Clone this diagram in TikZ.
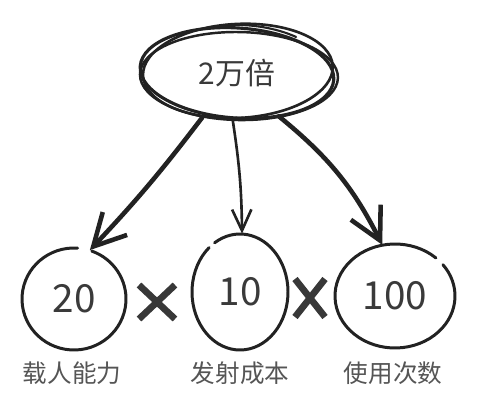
\documentclass[tikz,border=0pt]{standalone}
\usepackage{fontspec}
\setmainfont{Noto Sans CJK SC}
\usetikzlibrary{arrows.meta,shapes.geometric,calc}
\definecolor{ink}{HTML}{222222}
\definecolor{txt}{HTML}{3A3A3A}
\definecolor{labc}{HTML}{555555}
\begin{document}
\begin{tikzpicture}[x=0.02cm,y=0.02cm,
  sketch/.style={draw=ink, line width=1.7pt, line cap=round},
  bubble/.style={ellipse, inner sep=0pt},
  numtxt/.style={font=\fontsize{22}{24}\selectfont, text=txt},
  labtxt/.style={font=\fontsize{14}{16}\selectfont, text=labc},
  arrthick/.style={draw=ink, line width=2.6pt, line cap=round,
    -{Straight Barb[length=18pt,width=19pt]}},
  arrthin/.style={draw=ink, line width=1.5pt, line cap=round,
    -{Straight Barb[length=12pt,width=11pt]}},
  xmark/.style={draw=ink!90, line width=3.8pt}]
\useasboundingbox (0,0) rectangle (500,402);
\fill[white] (0,0) rectangle (500,402);

% top bubble
\node[bubble, minimum width=3.9cm, minimum height=1.9cm,
      font=\fontsize{17}{19}\selectfont, text=txt] (top) at (237,329) {2万倍};
\draw[sketch, line width=1.8pt, rotate around={-4:(top.center)}] (top.center) ellipse[x radius=97, y radius=45];
\draw[sketch, line width=1.5pt, rotate around={3:(top.center)}] ($(top.center)+(1,2)$) ellipse[x radius=95, y radius=47];
\draw[sketch, line width=1.4pt, rotate around={-1:(top.center)}] ($(top.center)+(2,-3)$) ellipse[x radius=99, y radius=44];
\draw[sketch, line width=1.2pt] (top.center) ++(50:92 and 47) arc[start angle=50, end angle=95, x radius=96, y radius=52];

% bottom bubbles
\node[bubble, minimum width=2.08cm, minimum height=2.04cm, numtxt] (c1) at (74,103) {20};
\node[bubble, minimum width=1.92cm, minimum height=2.32cm, numtxt] (c2) at (240,110) {10};
\node[bubble, minimum width=2.4cm, minimum height=2.08cm, numtxt] (c3) at (395,106) {100};

\draw[sketch] (c1.center) ++(86:52 and 51) arc[start angle=86, end angle=430, x radius=52, y radius=51];
\draw[sketch] (c2.center) ++(130:48 and 58) arc[start angle=130, end angle=482, x radius=48, y radius=58];
\draw[sketch] (c3.center) ++(47:60 and 52) arc[start angle=47, end angle=397, x radius=60, y radius=52];

% multiplication marks
\node[inner sep=0pt, minimum size=0pt] (x1) at (157,100) {};
\node[inner sep=0pt, minimum size=0pt] (x2) at (310,104) {};
\draw[xmark] ([shift={(-18,17)}]x1.center) -- ([shift={(18,-17)}]x1.center);
\draw[xmark] ([shift={(-18,-17)}]x1.center) -- ([shift={(18,17)}]x1.center);
\draw[xmark] ([shift={(-15,19)}]x2.center) -- ([shift={(15,-19)}]x2.center);
\draw[xmark] ([shift={(-15,-19)}]x2.center) -- ([shift={(15,19)}]x2.center);

% arrows
\draw[arrthick] (top.232) to[bend left=3] (c1.72);
\draw[arrthin] (top.265) to[bend left=4] (c2.88);
\draw[arrthick] (top.314) to[bend left=12] (c3.104);

% labels
\node[labtxt] (l1) at (72,29) {载人能力};
\node[labtxt] (l2) at (240,29) {发射成本};
\node[labtxt] (l3) at (393,29) {使用次数};
\end{tikzpicture}
\end{document}
